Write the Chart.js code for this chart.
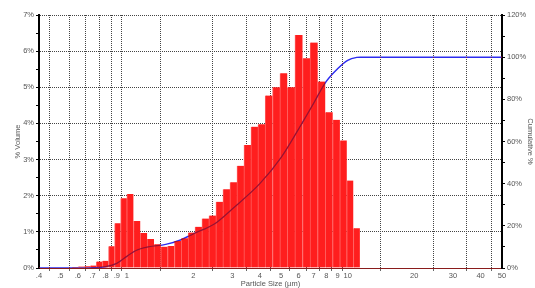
<!DOCTYPE html>
<html>
<head>
<meta charset="utf-8">
<script src="https://cdn.jsdelivr.net/npm/chart.js@4.4.1/dist/chart.umd.min.js"></script>
<style>
  html, body { margin: 0; padding: 0; background: #fff; }
</style>
</head>
<body>
<canvas id="psdChart" width="535" height="288"></canvas>
<script>
// bin edges (µm)
const binEdges = [0.564, 0.601, 0.641, 0.683, 0.727, 0.775, 0.826, 0.881, 0.937, 0.998,
  1.071, 1.151, 1.236, 1.327, 1.426, 1.530, 1.643, 1.764, 1.895, 2.034,
  2.188, 2.354, 2.532, 2.724, 2.931, 3.153, 3.391, 3.648, 3.925, 4.222,
  4.575, 4.935, 5.325, 5.771, 6.255, 6.750, 7.313, 7.935, 8.553, 9.228,
  9.927, 10.60, 11.37];

// % volume in each bin
const volume = [0.03, 0.04, 0.05, 0.07, 0.18, 0.20, 0.60, 1.24, 1.93, 2.05,
  1.30, 0.97, 0.80, 0.66, 0.59, 0.61, 0.75, 0.82, 0.98, 1.14,
  1.37, 1.45, 1.83, 2.18, 2.37, 2.83, 3.40, 3.91, 3.98, 4.77,
  5.00, 5.39, 5.00, 6.45, 5.80, 6.24, 5.16, 4.31, 4.10, 3.53,
  2.42, 1.10];

// cumulative curve
const cumSize = [0.4, 0.57, 0.7, 0.8, 0.9, 1.0, 1.1, 1.25, 1.5, 1.75, 2.0, 2.5, 3.0, 4.0, 5.0, 6.0, 7.0, 8.0, 9.0, 10.0, 11.0, 11.4, 50];
const cumPercent = [0, 0, 0.15, 0.6, 2.2, 5.5, 8.3, 10.0, 11.2, 13.3, 16.2, 21, 28, 40, 52.5, 66, 78, 88.5, 94.5, 98.5, 99.9, 100, 100];

const sizeTicks = [0.4, 0.5, 0.6, 0.7, 0.8, 0.9, 1, 2, 3, 4, 5, 6, 7, 8, 9, 10, 20, 30, 40, 50];

const binCenters = volume.map((v, i) => Math.sqrt(binEdges[i] * binEdges[i + 1]));
const cumPoints = cumSize.map((s, i) => ({ x: s, y: cumPercent[i] }));

Chart.defaults.font.family = "'Liberation Sans', Arial, sans-serif";
Chart.defaults.font.size = 7.5;
Chart.defaults.color = '#555';

// the curve is drawn twice: dark red where it crosses the bars, blue behind them elsewhere
const curveBlend = {
    id: 'curveBlend',
    beforeDatasetDraw(chart, args) {
        const mode = chart.data.datasets[args.index].blend;
        if (mode) {
            chart.ctx.save();
            chart.ctx.globalCompositeOperation = mode;
        }
    },
    afterDatasetDraw(chart, args) {
        if (chart.data.datasets[args.index].blend) chart.ctx.restore();
    }
};

const gridDash = [1, 1];

new Chart(document.getElementById('psdChart'), {
    type: 'bar',
    data: {
        datasets: [{
            type: 'bar',
            data: binCenters.map((c, i) => ({ x: c, y: volume[i] })),
            backgroundColor: '#ff1e1e',
            borderColor: '#ff5c5c',
            borderWidth: { left: 1, right: 0, top: 0, bottom: 0 },
            barThickness: 'flex',
            categoryPercentage: 1,
            barPercentage: 1,
            yAxisID: 'y',
            order: 2
        }, {
            type: 'line',
            data: cumPoints,
            blend: 'source-atop',
            borderColor: '#9a1030',
            borderWidth: 1.3,
            pointRadius: 0,
            fill: false,
            cubicInterpolationMode: 'monotone',
            yAxisID: 'y2',
            order: 1
        }, {
            type: 'line',
            data: cumPoints,
            blend: 'destination-over',
            borderColor: '#2b2bf0',
            borderWidth: 1.5,
            pointRadius: 0,
            fill: false,
            cubicInterpolationMode: 'monotone',
            yAxisID: 'y2',
            order: 0
        }]
    },
    options: {
        responsive: false,
        animation: false,
        devicePixelRatio: 1,
        layout: { padding: { top: 15, right: 0, bottom: 0, left: 0 } },
        plugins: {
            legend: { display: false },
            tooltip: { enabled: false }
        },
        scales: {
            x: {
                type: 'logarithmic',
                min: 0.4,
                max: 50,
                z: 1,
                afterBuildTicks: (scale) => { scale.ticks = sizeTicks.map(v => ({ value: v })); },
                afterFit: (scale) => { scale.height = 20; },
                ticks: {
                    autoSkip: false,
                    maxRotation: 0,
                    padding: 0,
                    color: '#555',
                    callback: (v) => v < 1 ? '.' + Math.round(v * 10) : String(v)
                },
                grid: { color: '#444', lineWidth: 1, tickLength: 3, tickColor: '#666' },
                border: { color: '#8a1c1c', width: 1, dash: gridDash },
                title: { display: true, text: 'Particle Size (µm)', color: '#555', padding: { top: 0, bottom: 0 } }
            },
            y: {
                position: 'left',
                min: 0,
                max: 7,
                z: 1,
                afterFit: (scale) => { scale.width = 39; },
                ticks: {
                    stepSize: 0.5,
                    autoSkip: false,
                    padding: 2,
                    color: '#555',
                    callback: (v) => Number.isInteger(v) ? v + '%' : ''
                },
                grid: {
                    color: (ctx) => Number.isInteger(ctx.tick.value) && ctx.tick.value > 0 ? '#444' : 'rgba(0,0,0,0)',
                    tickLength: 3,
                    tickColor: '#000'
                },
                border: { color: '#000', width: 2, dash: gridDash },
                title: { display: true, text: '% Volume', color: '#555', padding: { top: 13, bottom: 0 } }
            },
            y2: {
                position: 'right',
                min: 0,
                max: 120,
                afterFit: (scale) => { scale.width = 33; },
                ticks: {
                    stepSize: 10,
                    autoSkip: false,
                    padding: 2,
                    color: '#555',
                    callback: (v) => v % 20 === 0 ? v + '%' : ''
                },
                grid: { drawOnChartArea: false, tickLength: 3, tickColor: '#000' },
                border: { color: '#000', width: 2 },
                title: { display: true, text: 'Cumulative %', color: '#555', padding: { top: 0, bottom: 0 } }
            }
        }
    },
    plugins: [curveBlend]
});
</script>
</body>
</html>
